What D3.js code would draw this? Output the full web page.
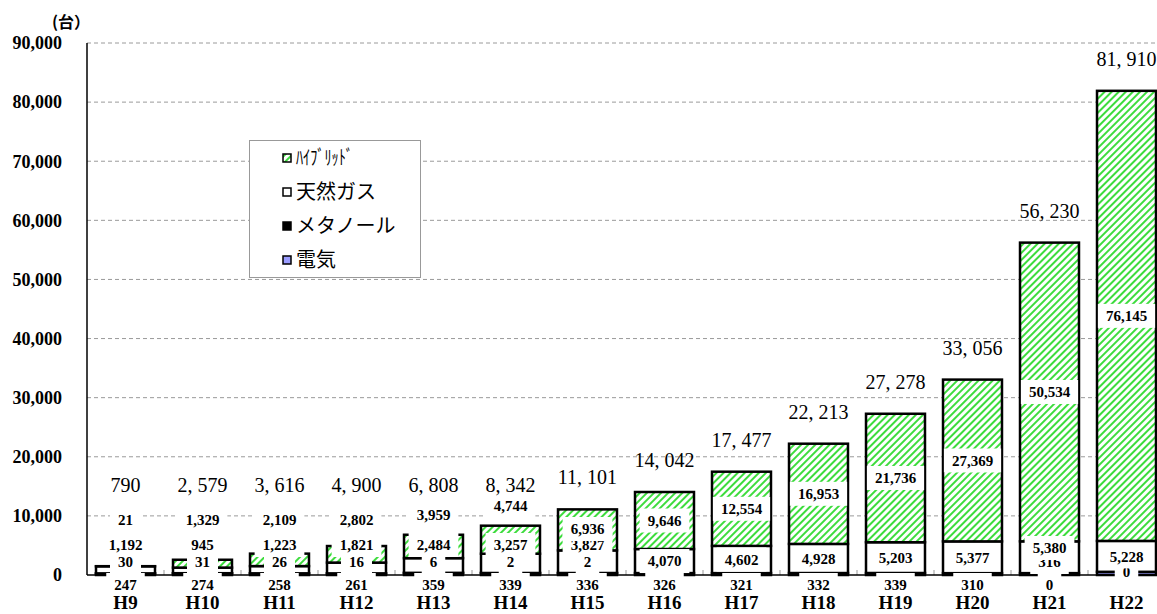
<!DOCTYPE html>
<html>
<head>
<meta charset="utf-8">
<script src="https://cdn.jsdelivr.net/npm/d3@7"></script>
<style>
  body { margin: 0; background: #fff; }
  svg { display: block; }
  .serif { font-family: "Liberation Serif", "DejaVu Serif", serif; }
</style>
</head>
<body>
<svg id="chart" width="1157" height="614"></svg>
<script>
// ---- data ----
const years = ["H9", "H10", "H11", "H12", "H13", "H14", "H15", "H16", "H17", "H18", "H19", "H20", "H21", "H22"];
const hybrid   = [21, 1329, 2109, 2802, 3959, 4744, 6936, 9646, 12554, 16953, 21736, 27369, 50534, 76145];
const gas      = [1192, 945, 1223, 1821, 2484, 3257, 3827, 4070, 4602, 4928, 5203, 5377, 5380, 5228];
const methanol = [30, 31, 26, 16, 6, 2, 2, null, null, null, null, null, 316, 0];
const electric = [247, 274, 258, 261, 359, 339, 336, 326, 321, 332, 339, 310, 0, 537];
const totals   = [790, 2579, 3616, 4900, 6808, 8342, 11101, 14042, 17477, 22213, 27278, 33056, 56230, 81910];
const yTicks   = [0, 10000, 20000, 30000, 40000, 50000, 60000, 70000, 80000, 90000];

const seriesNames = ["ﾊｲﾌﾞﾘｯﾄﾞ", "天然ガス", "メタノール", "電気"]; // legend order
const keys = ["electric", "methanol", "gas", "hybrid"];               // stack order, bottom up

const rows = years.map((yr, i) => ({
  year: yr,
  electric: electric[i] || 0,
  methanol: methanol[i] || 0,
  gas: gas[i],
  hybrid: hybrid[i]
}));

const svg = d3.select("#chart");
const plotLeft = 87, plotTop = 43, plotBottom = 575;

const x = d3.scaleBand().domain(years).range([plotLeft, plotLeft + 77 * years.length]).paddingInner(0.234).paddingOuter(0.117);
const y = d3.scaleLinear().domain([0, 90000]).range([plotBottom, plotTop]);

// hatch for hybrid
const defs = svg.append("defs");
const pat = defs.append("pattern")
  .attr("id", "hatch")
  .attr("patternUnits", "userSpaceOnUse")
  .attr("width", 5).attr("height", 5)
  .attr("patternTransform", "rotate(45)");
pat.append("rect").attr("width", 5).attr("height", 5).attr("fill", "#fff");
pat.append("rect").attr("width", 2).attr("height", 5).attr("fill", "#3ddc3d");

const fills = { hybrid: "url(#hatch)", gas: "#fff", methanol: "#000", electric: "#9a9cff" };

// gridlines
svg.append("g").selectAll("line").data(yTicks.slice(1)).join("line")
  .attr("x1", plotLeft).attr("x2", 1157)
  .attr("y1", d => y(d)).attr("y2", d => y(d))
  .attr("stroke", "#9a9a9a").attr("stroke-width", 1)
  .attr("stroke-dasharray", "4,3");

// y tick labels
svg.append("g").selectAll("text").data(yTicks).join("text")
  .attr("class", "serif")
  .attr("x", 62).attr("y", d => y(d))
  .attr("dy", "0.35em")
  .attr("text-anchor", "end")
  .attr("font-size", 18).attr("font-weight", "bold")
  .text(d => d3.format(",")(d));

svg.append("text")
  .attr("x", 52).attr("y", 28)
  .attr("font-family", "'Noto Sans CJK JP', sans-serif")
  .attr("font-size", 16).attr("font-weight", "bold")
  .text("(台）");

// small ticks between categories
svg.append("g").selectAll("line").data(years.slice(1)).join("line")
  .attr("x1", d => x(d) - x.step() * x.paddingInner() / 2)
  .attr("x2", d => x(d) - x.step() * x.paddingInner() / 2)
  .attr("y1", plotBottom - 5).attr("y2", plotBottom)
  .attr("stroke", "#999");

// stacked bars
const stacked = d3.stack().keys(keys)(rows);
const gBars = svg.append("g");
stacked.forEach(layer => {
  gBars.append("g").selectAll("rect").data(layer).join("rect")
    .attr("x", d => x(d.data.year))
    .attr("width", x.bandwidth())
    .attr("y", d => y(d[1]))
    .attr("height", d => y(d[0]) - y(d[1]))
    .attr("fill", fills[layer.key])
    .attr("stroke", "#000")
    .attr("stroke-width", d => d[1] > d[0] ? 2.5 : 0);
});

// axes lines
svg.append("line").attr("x1", plotLeft).attr("x2", plotLeft).attr("y1", plotTop).attr("y2", plotBottom).attr("stroke", "#000").attr("stroke-width", 1.5);
svg.append("line").attr("x1", plotLeft).attr("x2", 1157).attr("y1", plotBottom).attr("y2", plotBottom).attr("stroke", "#000").attr("stroke-width", 1.5);

// segment labels with white boxes
const fmt = d3.format(",");
const labels = [];
rows.forEach((r, i) => {
  const cx = x(r.year) + x.bandwidth() / 2;
  const base = r.electric + r.methanol;
  const hasMeth = methanol[i] !== null && methanol[i] > 0;
  // electric: below the axis
  if (r.year !== "H22") labels.push({ cx, cy: 585, v: electric[i] });
  // methanol: just above the axis
  if (methanol[i] !== null) labels.push({ cx, cy: hasMeth ? 562 : plotBottom - 3, v: methanol[i] });
  // gas
  const gTop = y(base + r.gas), gBot = y(base);
  let gy = gBot - gTop >= 23.5 ? (gTop + gBot) / 2 : 545;
  if (hasMeth) gy = Math.min(gy, 548);
  labels.push({ cx, cy: gy, v: r.gas });
  // hybrid
  const hTop = y(base + r.gas + r.hybrid), hBot = gTop;
  labels.push({ cx, cy: hBot - hTop >= 40 ? Math.min((hTop + hBot) / 2, 529) : Math.min(hTop - 20, 520), v: r.hybrid });
});

const gLab = svg.append("g");
labels.forEach(l => {
  const t = gLab.append("g");
  const txt = t.append("text")
    .attr("class", "serif")
    .attr("x", l.cx).attr("y", l.cy).attr("dy", "0.36em")
    .attr("text-anchor", "middle")
    .attr("font-size", 15).attr("font-weight", "bold")
    .text(fmt(l.v));
  const w = txt.node().getComputedTextLength();
  t.insert("rect", "text")
    .attr("x", l.cx - w / 2 - 8).attr("y", l.cy - 12)
    .attr("width", w + 16).attr("height", 24)
    .attr("fill", "#fff");
});

// totals
svg.append("g").selectAll("text").data(rows).join("text")
  .attr("class", "serif")
  .attr("x", d => x(d.year) + x.bandwidth() / 2)
  .attr("y", (d, i) => Math.min(y(totals[i]) - 32, 485))
  .attr("dy", "0.35em")
  .attr("text-anchor", "middle")
  .attr("font-size", 20)
  .text((d, i) => fmt(totals[i]).replace(/,/g, ", "));

// category labels
svg.append("g").selectAll("text").data(years).join("text")
  .attr("class", "serif")
  .attr("x", d => x(d) + x.bandwidth() / 2)
  .attr("y", 609)
  .attr("text-anchor", "middle")
  .attr("font-size", 19).attr("font-weight", "bold")
  .text(d => d);

// legend
const lg = svg.append("g");
lg.append("rect").attr("x", 249.5).attr("y", 140.5).attr("width", 171).attr("height", 137)
  .attr("fill", "#fff").attr("stroke", "#999");
const legendFill = [fills.hybrid, fills.gas, fills.methanol, fills.electric];
const rowY = [158, 192, 226, 260];
seriesNames.forEach((n, i) => {
  lg.append("rect").attr("x", 283).attr("y", rowY[i] - 4).attr("width", 8).attr("height", 8)
    .attr("fill", legendFill[i]).attr("stroke", "#000").attr("stroke-width", 1.5);
  const t = lg.append("text").attr("x", 296).attr("y", rowY[i]).attr("dy", "0.36em")
    .attr("font-family", "'Noto Sans CJK JP', sans-serif")
    .attr("font-size", 20)
    .text(n);
  if (i === 0) t.attr("textLength", 57).attr("lengthAdjust", "spacingAndGlyphs");
});
</script>
</body>
</html>
